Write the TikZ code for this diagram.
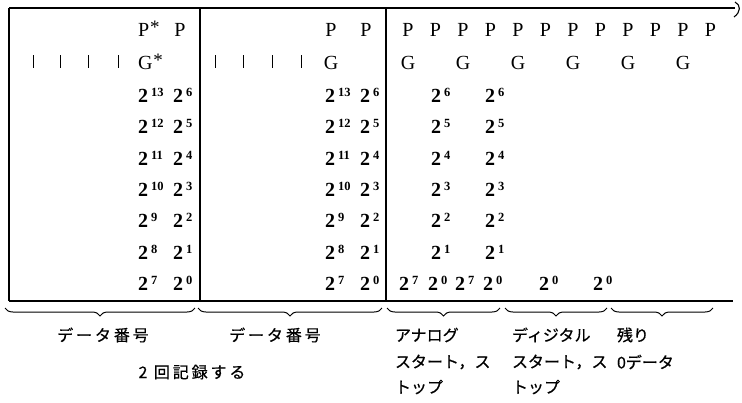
\documentclass[tikz,border=0pt]{standalone}
\usepackage{fontspec}
\setmainfont{Liberation Serif}
\newfontfamily\jp[FakeBold=0.6]{Noto Sans CJK JP}
\newfontfamily\jpw[LetterSpace=18,FakeBold=0.6]{Noto Sans CJK JP}
\usetikzlibrary{decorations.pathreplacing}
\newcommand{\tw}[1]{2\hspace{3pt}\raisebox{6.5pt}{\fontsize{12.5}{12}\selectfont #1}}
\newcommand{\starsup}{\hspace{1pt}\raisebox{3pt}{\fontsize{19}{19}\selectfont *}}
\begin{document}
\begin{tikzpicture}[x=1pt,y=-1pt,
  every node/.style={inner sep=0pt, outer sep=0pt},
  cell/.style={font=\fontsize{20}{24}\selectfont, anchor=base},
  num/.style={font=\fontsize{20}{24}\selectfont\bfseries, anchor=base west},
  numr/.style={font=\fontsize{20}{24}\selectfont, anchor=base west},
  lab/.style={font=\jp\fontsize{16}{18}\selectfont, anchor=west},
  labw/.style={font=\jpw\fontsize{16}{18}\selectfont},
  frame/.style={line width=1.1pt},
  tickmark/.style={line width=0.9pt},
  brc/.style={decorate, decoration={brace, mirror, amplitude=8pt}, line width=1pt}]
\useasboundingbox (0,0) rectangle (742,402);
% frame
\coordinate (tl) at (9,8);
\coordinate (tr) at (735,8);
\coordinate (bl) at (9,301);
\coordinate (br) at (733,301);
\coordinate (m1t) at (200,8);
\coordinate (m1b) at (200,301);
\coordinate (m2t) at (386,8);
\coordinate (m2b) at (386,301);
\draw[frame] (tl) -- (tr);
\draw[frame] (735,2) .. controls (741,5) and (741,12) .. (734,17);
\draw[frame] (bl) -- (br);
\draw[frame] (tl) -- (bl);
\draw[frame] (m1t) -- (m1b);
\draw[frame] (m2t) -- (m2b);
% left box
\node[numr] (lp1) at (138,36) {P\starsup};
\node[cell] (lp2) at (180,36) {P};
\node[numr] (lg) at (138,69) {G\starsup};
\foreach \x in {33,60,88,118} \draw[tickmark] (\x,55) -- (\x,68);
\foreach \a/\b/\y [count=\i] in {13/6/102.5,12/5/133.5,11/4/165.5,10/3/196.5,9/2/227.5,8/1/259.5,7/0/290.5}{
  \node[num] (la\i) at (138,\y) {\tw{\a}};
  \node[num] (lb\i) at (173,\y) {\tw{\b}};
}
% middle box
\node[cell] (mp1) at (331,36) {P};
\node[cell] (mp2) at (366,36) {P};
\node[cell] (mg) at (331,69) {G};
\foreach \x in {215,243,272,301} \draw[tickmark] (\x,55) -- (\x,68);
\foreach \a/\b/\y [count=\i] in {13/6/102.5,12/5/133.5,11/4/165.5,10/3/196.5,9/2/227.5,8/1/259.5,7/0/290.5}{
  \node[num] (ma\i) at (325,\y) {\tw{\a}};
  \node[num] (mb\i) at (360,\y) {\tw{\b}};
}
% right section
\foreach \k in {0,...,11}{
  \node[cell] (rp\k) at ({408+27.5*\k},36) {P};
}
\foreach \k in {0,2,4,6,8,10}{
  \node[cell] (rg\k) at ({408+27.5*\k},69) {G};
}
\foreach \e/\y [count=\i] in {6/102.5,5/133.5,4/165.5,3/196.5,2/227.5,1/259.5}{
  \node[num] (ra\i) at (431,\y) {\tw{\e}};
  \node[num] (rb\i) at (485,\y) {\tw{\e}};
}
\foreach \x/\e [count=\i] in {399/7,428/0,455/7,483/0,539/0,593/0}{
  \node[num] (rz\i) at (\x,290.5) {\tw{\e}};
}
% braces
\coordinate (b1s) at (5,308);   \coordinate (b1e) at (195,308);
\coordinate (b2s) at (198,308); \coordinate (b2e) at (382,308);
\coordinate (b3s) at (387,308); \coordinate (b3e) at (500,308);
\coordinate (b4s) at (505,308); \coordinate (b4e) at (607,308);
\coordinate (b5s) at (611,308); \coordinate (b5e) at (713,308);
\draw[brc] (b1s) -- (b1e);
\draw[brc] (b2s) -- (b2e);
\draw[brc] (b3s) -- (b3e);
\draw[brc] (b4s) -- (b4e);
\draw[brc] (b5s) -- (b5e);
% labels
\node[labw] (d1) at (103,335) {データ番号};
\node[labw] (d2) at (275,335) {データ番号};
\node[labw] (rec) at (192,372) {2 回記録する};
\node[lab] (an1) at (395,335) {アナログ};
\node[lab] (an2) at (395,362) {スタート，ス};
\node[lab] (an3) at (395,387) {トップ};
\node[lab] (di1) at (512,335) {ディジタル};
\node[lab] (di2) at (512,362) {スタート，ス};
\node[lab] (di3) at (512,387) {トップ};
\node[lab] (zz1) at (617,335) {残り};
\node[lab] (zz2) at (617,362) {0データ};
\end{tikzpicture}
\end{document}
